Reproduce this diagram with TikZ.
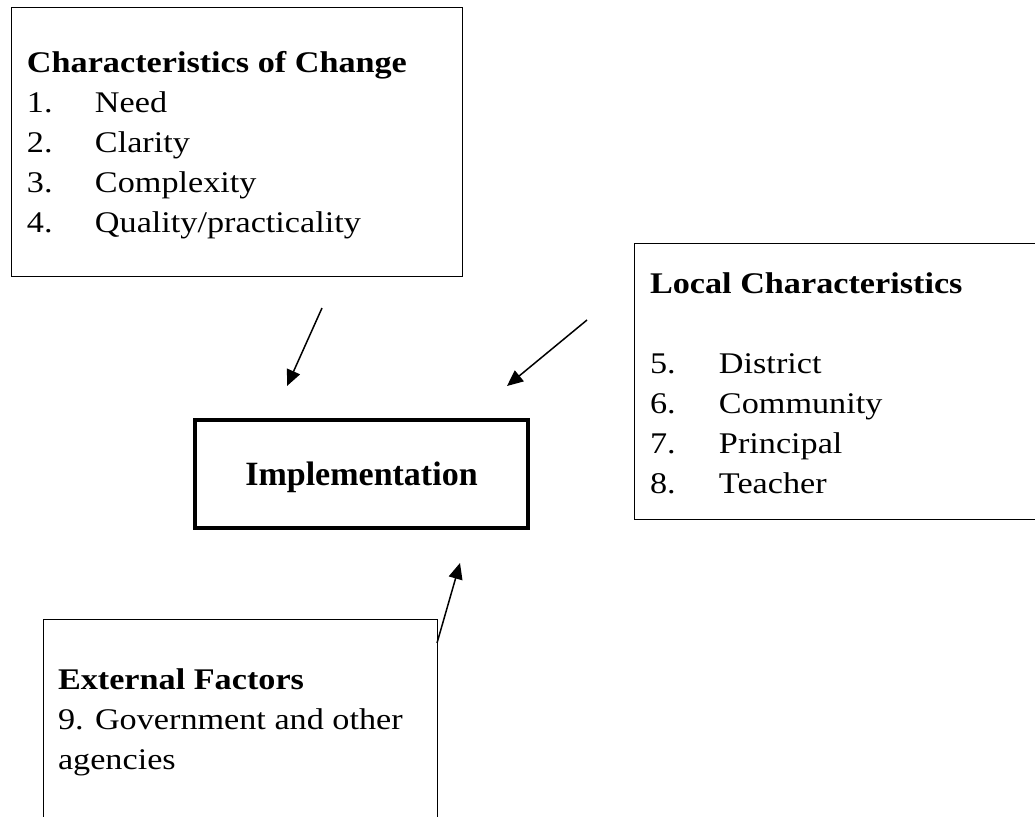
\documentclass[tikz,border=0pt]{standalone}
\usepackage{fontspec}
\setmainfont{Liberation Serif}[FakeStretch=1.14]
\newfontfamily\implfont{Liberation Serif}
\usetikzlibrary{arrows.meta}
\newcommand{\boxtext}{\fontsize{30}{40}\selectfont}
\tikzstyle{frame}=[draw, rectangle, line width=1.4pt, inner sep=0pt, anchor=north west]
\tikzstyle{corebox}=[draw, rectangle, line width=3.5pt, inner sep=0pt, text depth=0pt,
  font={\fontsize{34}{40}\selectfont\implfont\bfseries}]
\tikzstyle{label}=[anchor=base west, inner sep=0pt, outer sep=0pt]
\tikzstyle{link}=[-{Triangle[length=16pt,width=14pt]}, line width=1.5pt]

\begin{document}
\begin{tikzpicture}[x=1pt,y=-1pt]
  \useasboundingbox (0,0) rectangle (1035,816);

  %% Boxes
  \draw (11,7) node[frame, minimum width=451pt, minimum height=269pt] (change) {};
  \draw (634,243) node[frame, minimum width=420pt, minimum height=276pt] (local) {};
  \draw (43,619) node[frame, minimum width=394pt, minimum height=220pt] (external) {};
  \draw (361.5,474) node[corebox, minimum width=333pt, minimum height=108pt] (impl) {Implementation};

  %% Texts
  \draw (27,72) node[label] (changetext) {\boxtext\begin{tabular}[t]{@{}p{68pt}@{}l@{}}
      \multicolumn{2}{@{}l@{}}{\textbf{Characteristics of Change}}\\
      1. & Need\\
      2. & Clarity\\
      3. & Complexity\\
      4. & Quality/practicality
    \end{tabular}};
  \draw (650,293) node[label] (localtext) {\boxtext\begin{tabular}[t]{@{}p{69pt}@{}l@{}}
      \multicolumn{2}{@{}l@{}}{\textbf{Local Characteristics}}\\
      & \\
      5. & District\\
      6. & Community\\
      7. & Principal\\
      8. & Teacher
    \end{tabular}};
  \draw (58,689) node[label] (externaltext) {\boxtext\begin{tabular}[t]{@{}l@{}}
      \textbf{External Factors}\\
      9. Government and other\\
      agencies
    \end{tabular}};

  %% Arrows
  \coordinate (c1) at (322,308);
  \coordinate (c2) at (287,386);
  \coordinate (l1) at (587,320);
  \coordinate (l2) at (507,386);
  \coordinate (e1) at (437,643);
  \coordinate (e2) at (460,563);
  \draw[link] (c1) -- (c2);
  \draw[link] (l1) -- (l2);
  \draw[link] (e1) -- (e2);
\end{tikzpicture}
\end{document}
